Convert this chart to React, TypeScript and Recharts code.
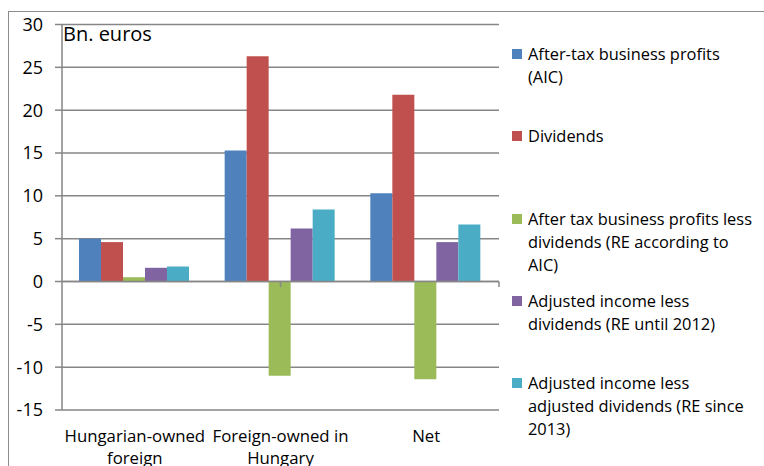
import React from "react";
import { BarChart, Bar, XAxis, YAxis, CartesianGrid, ReferenceLine } from "recharts";

const categories = ["Hungarian-owned foreign", "Foreign-owned in Hungary", "Net"];
const categoryLines = [["Hungarian-owned", "foreign"], ["Foreign-owned in", "Hungary"], ["Net"]];

const afterTaxProfits = [5.0, 15.3, 10.3];
const dividends = [4.6, 26.3, 21.8];
const profitsLessDividends = [0.5, -11.0, -11.4];
const adjustedLessDividends = [1.6, 6.2, 4.6];
const adjustedLessAdjDividends = [1.75, 8.4, 6.65];

const yTicks = [-15, -10, -5, 0, 5, 10, 15, 20, 25, 30];
const categoryEdges = [1, 2, 3];

const series = [
  { key: "afterTax", name: "After-tax business profits (AIC)", values: afterTaxProfits, color: "#4F81BD",
    lines: ["After-tax business profits", "(AIC)"] },
  { key: "dividends", name: "Dividends", values: dividends, color: "#C0504D", lines: ["Dividends"] },
  { key: "reAic", name: "After tax business profits less dividends (RE according to AIC)", values: profitsLessDividends,
    color: "#9BBB59", lines: ["After tax business profits less", "dividends (RE according to", "AIC)"] },
  { key: "reUntil2012", name: "Adjusted income less dividends (RE until 2012)", values: adjustedLessDividends,
    color: "#8064A2", lines: ["Adjusted income less", "dividends (RE until 2012)"] },
  { key: "reSince2013", name: "Adjusted income less adjusted dividends (RE since 2013)", values: adjustedLessAdjDividends,
    color: "#4BACC6", lines: ["Adjusted income less", "adjusted dividends (RE since", "2013)"] },
];

const data = categories.map((cat, i) => {
  const row: Record<string, string | number> = { category: cat, idx: i };
  series.forEach((s) => { row[s.key] = s.values[i]; });
  return row;
});

const FONT = "'Open Sans', 'Noto Sans', sans-serif";
const GRID = "#868686";

function CategoryTick(props: any) {
  const { x, y, payload } = props;
  const lines = categoryLines[payload.index] || [payload.value];
  return (
    <text x={x} y={y} textAnchor="middle" fontFamily={FONT} fontSize={16.8} fill="#000">
      {lines.map((l: string, i: number) => (
        <tspan key={i} x={x} dy={i === 0 ? 32 : 22}>{l}</tspan>
      ))}
    </text>
  );
}

function ChartLegend() {
  return (
    <div style={{ position: "absolute", left: 512, top: 42, width: 252, fontFamily: FONT, fontSize: 16.4, lineHeight: "23px", color: "#000" }}>
      {series.map((s) => (
        <div key={s.key} style={{ position: "relative", height: 82.3 }}>
          <div style={{ position: "absolute", left: 0, top: 7, width: 10, height: 10, background: s.color }} />
          <div style={{ position: "absolute", left: 16, top: 0, whiteSpace: "nowrap" }}>
            {s.lines.map((l, i) => <div key={i}>{l}</div>)}
          </div>
        </div>
      ))}
    </div>
  );
}

export default function App() {
  return (
    <div style={{ position: "absolute", left: 0, top: 0, width: 764, height: 466, overflow: "hidden", background: "#fff", fontFamily: FONT }}>
      <div style={{ position: "absolute", left: 8, top: 11, width: 900, height: 600, borderTop: "1.5px solid #8c8c8c", borderLeft: "1.5px solid #8c8c8c" }} />
      <BarChart
        width={764}
        height={466}
        data={data}
        margin={{ top: 24.5, right: 265, bottom: 0, left: 0 }}
        barCategoryGap={17}
        barGap={0}
        style={{ position: "absolute", left: 0, top: 0 }}
      >
        <CartesianGrid horizontal vertical={false} stroke={GRID} strokeWidth={1.5} />
        <XAxis xAxisId="cat" dataKey="category" axisLine={false} tickLine={false} tickSize={0} tickMargin={0}
          height={56} tick={<CategoryTick />} interval={0} />
        <XAxis xAxisId="num" type="number" domain={[0, 3]} hide />
        <YAxis domain={[-15, 30]} ticks={yTicks} width={62} interval={0}
          axisLine={{ stroke: GRID, strokeWidth: 1.5 }} tickLine={{ stroke: GRID, strokeWidth: 1.5 }}
          tickSize={7} tickMargin={12}
          tick={{ fill: "#000", fontSize: 18, fontFamily: FONT }} />
        {series.map((s) => (
          <Bar key={s.key} xAxisId="cat" dataKey={s.key} name={s.name} fill={s.color} isAnimationActive={false} />
        ))}
        <ReferenceLine xAxisId="cat" y={0} stroke={GRID} strokeWidth={1.5} />
        {categoryEdges.map((e) => (
          <ReferenceLine key={e} xAxisId="num" segment={[{ x: e, y: 0 }, { x: e, y: -0.65 }]} stroke={GRID} strokeWidth={1.5} />
        ))}
      </BarChart>
      <ChartLegend />
      <div style={{ position: "absolute", left: 63, top: 24, fontSize: 20, lineHeight: "20px", color: "#000", fontFamily: FONT }}>
        Bn. euros
      </div>
    </div>
  );
}
